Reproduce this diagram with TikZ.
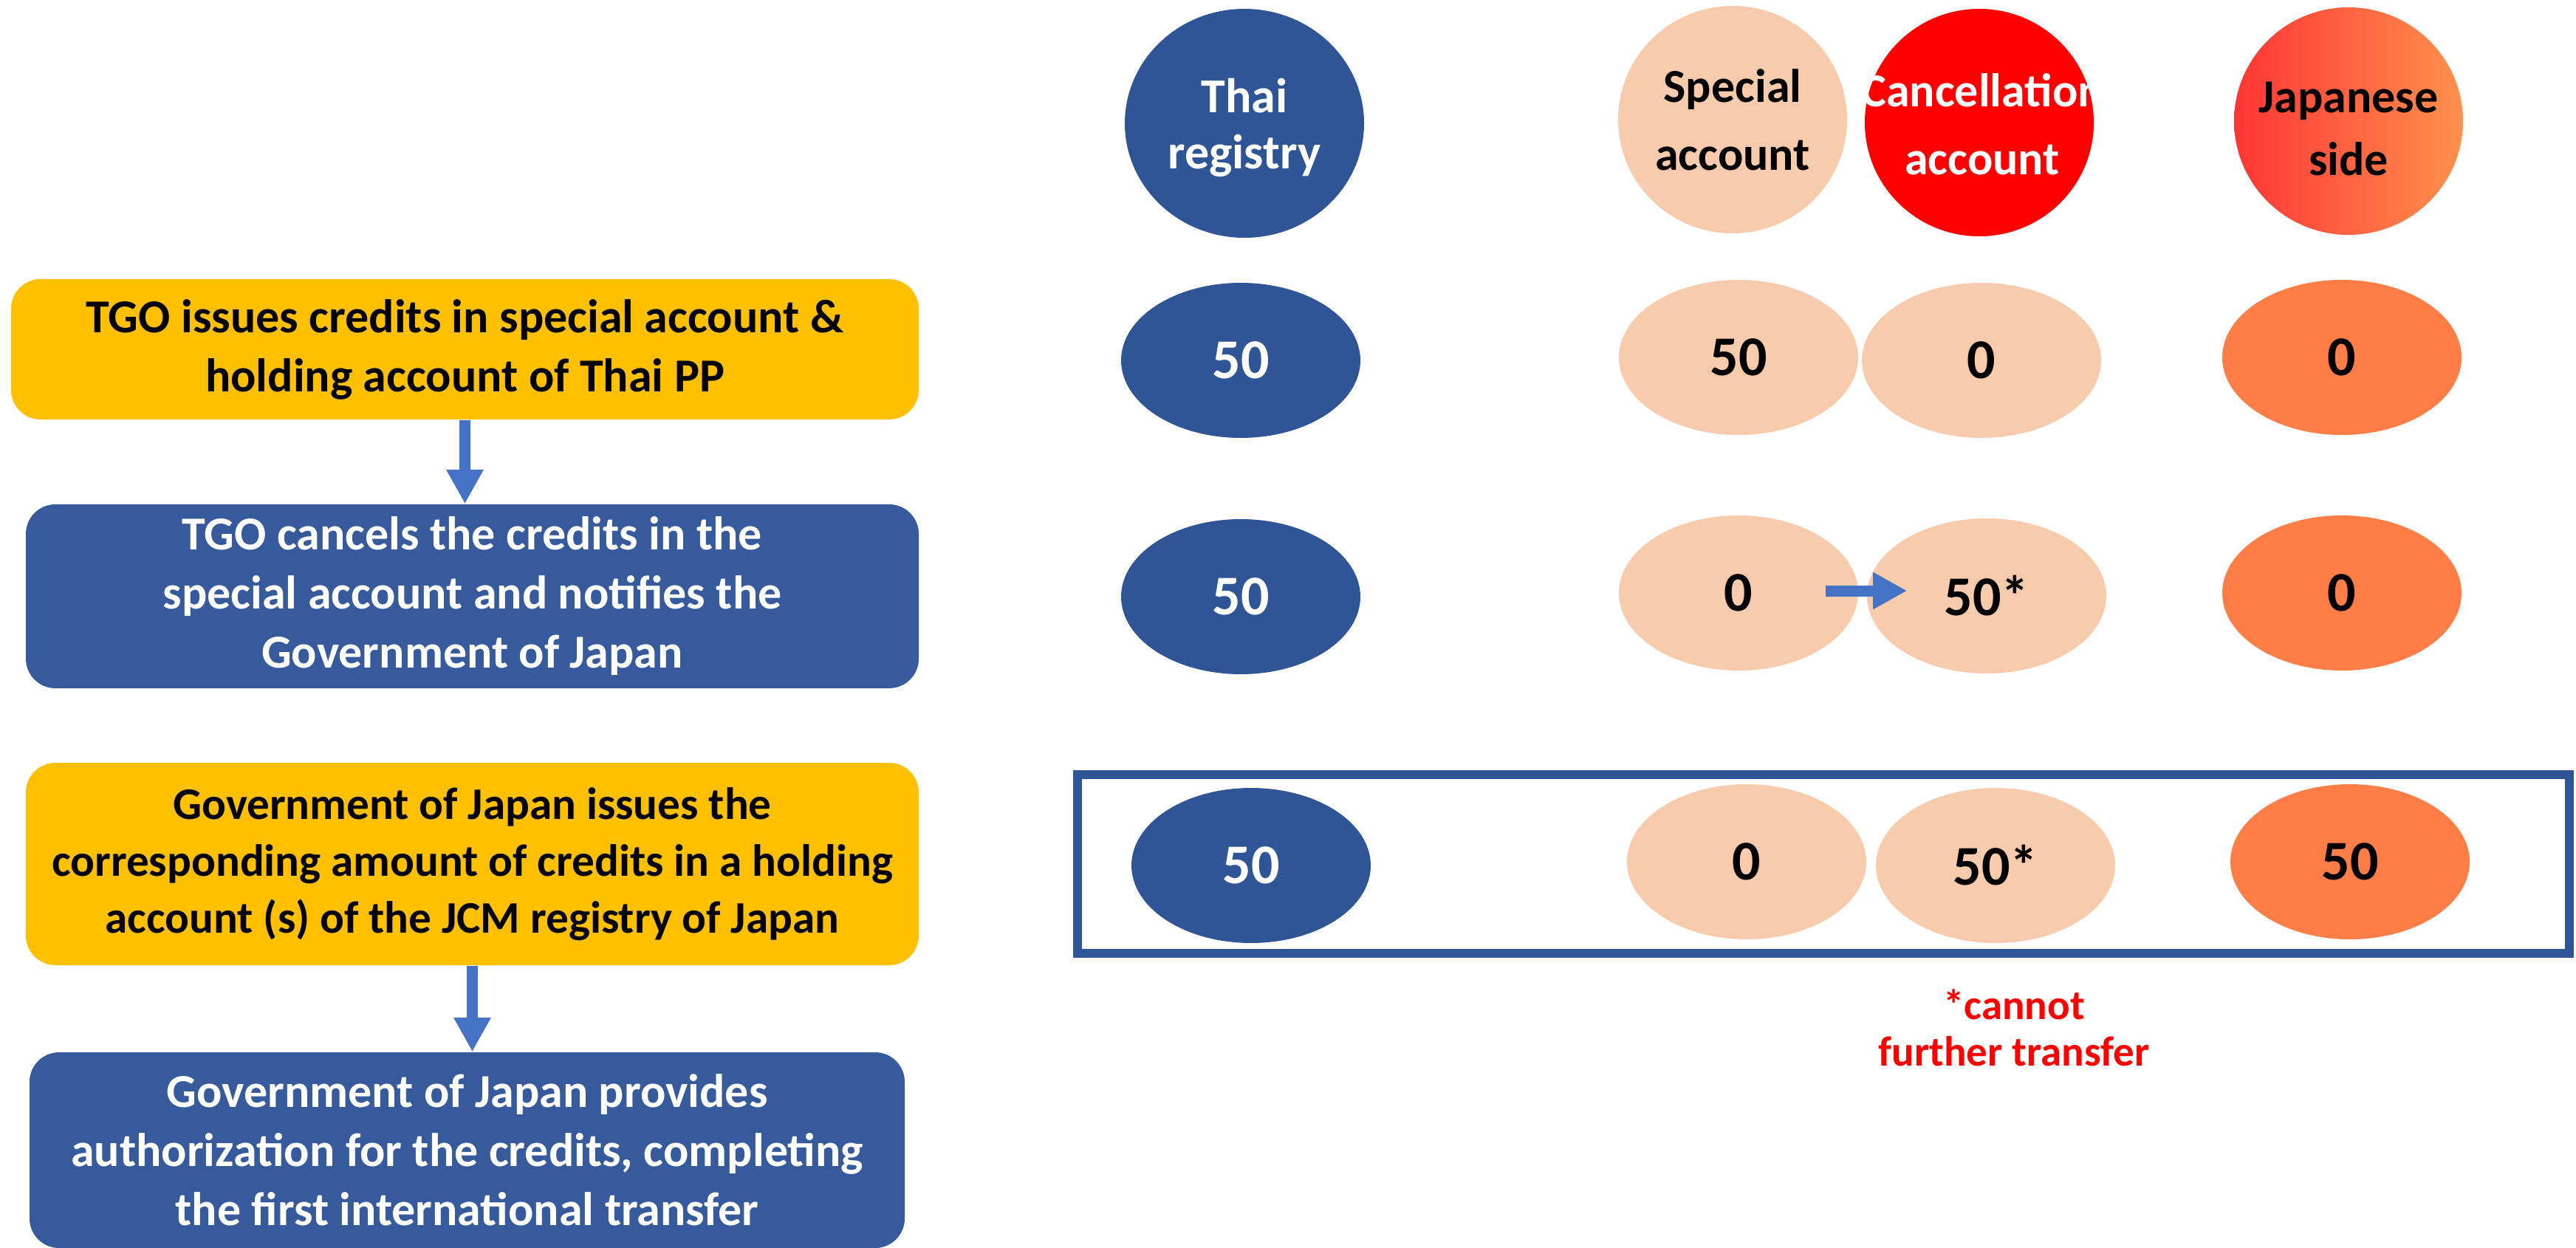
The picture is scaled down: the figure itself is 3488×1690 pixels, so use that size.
\documentclass[tikz,border=0pt]{standalone}
\usepackage{fontspec}
\setmainfont{Carlito}
\usepackage{xcolor}
\usetikzlibrary{shapes.geometric,arrows.meta,calc}

\definecolor{tgoblue}{HTML}{2F5597}
\definecolor{boxblue}{HTML}{365A9B}
\definecolor{tgoyellow}{HTML}{FFC000}
\definecolor{peach}{HTML}{F8CBAD}
\definecolor{jporange}{HTML}{FF7D47}
\definecolor{jpred}{HTML}{FF3535}
\definecolor{jplight}{HTML}{FF914D}
\definecolor{arrowblue}{HTML}{4472C4}
\definecolor{notered}{HTML}{FF0000}

\tikzset{
  stepbox/.style={rounded corners=10pt, inner sep=0pt, align=center, font=\fontsize{16}{20}\selectfont\bfseries},
  acct/.style={ellipse, inner sep=0pt, minimum width=81pt, minimum height=52.5pt, font=\fontsize{19}{22}\selectfont\bfseries},
  head/.style={ellipse, inner sep=0pt, minimum width=77.5pt, minimum height=77pt},
  headtxt/.style={align=center, inner sep=0pt, font=\fontsize{16}{23}\selectfont\bfseries},
  blockarrow/.style={arrowblue, line width=3.75pt, -{Triangle[length=11.5pt,width=11.75pt]}},
}

\begin{document}
\begin{tikzpicture}[x=0.25pt,y=0.25pt,yscale=-1,xscale=1]
\useasboundingbox (0,0) rectangle (3488,1690);

%Shape: Rounded Rect [id:step1]
\node (s1) at (629.5,473) [stepbox, fill=tgoyellow, minimum width=307.25pt, minimum height=47.5pt] {TGO issues credits in special account \&\\holding account of Thai PP};
%Shape: Rounded Rect [id:step2]
\node (s2) at (639.5,807.5) [stepbox, fill=boxblue, text=white, minimum width=302.25pt, minimum height=62.25pt] {TGO cancels the credits in the\\special account and notifies the\\Government of Japan};
%Shape: Rounded Rect [id:step3]
\node (s3) at (639.5,1170) [stepbox, fill=tgoyellow, minimum width=302.25pt, minimum height=68.5pt, font=\fontsize{15.3}{19.25}\selectfont\bfseries] {Government of Japan issues the\\corresponding amount of credits in a holding\\account (s) of the JCM registry of Japan};
%Shape: Rounded Rect [id:step4]
\node (s4) at (632.5,1557.5) [stepbox, fill=boxblue, text=white, minimum width=296.25pt, minimum height=66.25pt] {Government of Japan provides\\authorization for the credits, completing\\the first international transfer};

%Straight Lines [id:arrows]
\draw [blockarrow] (s1.south) -- (s1.south |- s2.north);
\draw [blockarrow] (s3.south) -- (s3.south |- s4.north);

%Shape: Ellipse [id:headers]
\node (hthai) at (1685,167) [head, fill=tgoblue, minimum width=81pt, minimum height=77.5pt,
  label={[headtxt, text=white, yshift=-1.5pt, font=\fontsize{16.5}{19}\selectfont\bfseries]center:Thai\\registry}] {};
\node (hspec) at (2346,162) [head, fill=peach,
  label={[headtxt]center:Special\\account}] {};
\node (hcanc) at (2680,166) [head, fill=notered,
  label={[headtxt, text=white, xshift=1pt, yshift=-0.5pt]center:Cancellation\\account}] {};
\node (hjp) at (3180,164) [head, left color=jpred, right color=jplight,
  label={[headtxt, yshift=-2.5pt, font=\fontsize{16}{21.25}\selectfont\bfseries]center:Japanese\\side}] {};

%Shape: Ellipse [id:row1]
\node (t1) at (1680,488) [acct, fill=tgoblue, text=white] {50};
\node (sp1) at (2354,484) [acct, fill=peach] {50};
\node (cn1) at (2683,488) [acct, fill=peach] {0};
\node (jp1) at (3171,484) [acct, fill=jporange] {0};

%Shape: Ellipse [id:row2]
\node (t2) at (1680,808) [acct, fill=tgoblue, text=white] {50};
\node (sp2) at (2354,803) [acct, fill=peach] {0};
\node (cn2) at (2690,807) [acct, fill=peach] {50*};
\node (jp2) at (3171,803) [acct, fill=jporange] {0};
\draw [blockarrow] ($(sp2.east)+(-45,-3)$) -- ($(cn2.west)+(55,-7)$);

%Shape: Rectangle [id:frame]
\draw [tgoblue, line width=3pt] (1459,1049) rectangle (3479,1290.5);

%Shape: Ellipse [id:row3]
\node (t3) at (1694,1172) [acct, fill=tgoblue, text=white] {50};
\node (sp3) at (2365,1167) [acct, fill=peach] {0};
\node (cn3) at (2702,1172) [acct, fill=peach] {50*};
\node (jp3) at (3182,1167) [acct, fill=jporange] {50};

% Text Node
\node (note) at (2727,1392) [align=center, text=notered, font=\fontsize{14.25}{15.75}\selectfont\bfseries] {*cannot\\further transfer};

\end{tikzpicture}
\end{document}
